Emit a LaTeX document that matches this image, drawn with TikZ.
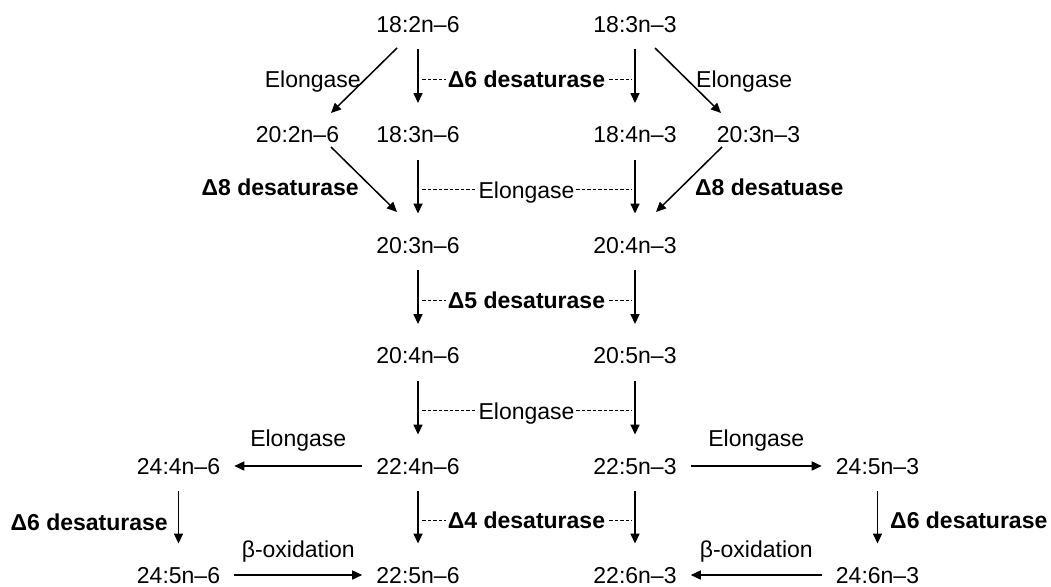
\documentclass[tikz,border=0pt]{standalone}
\usepackage{fontspec}
\setmainfont{Liberation Sans}
\usetikzlibrary{arrows.meta,calc}

\tikzset{
  fa/.style={inner sep=0pt, text height=16.5pt, text depth=0pt, font=\fontsize{23}{27}\selectfont},
  enz/.style={fa, font=\fontsize{23}{27}\selectfont\bfseries},
  conv/.style={-{Triangle[length=10pt,width=9pt]}, line width=1.5pt},
  vconv/.style={conv, shorten <=17pt, shorten >=23pt},
  hconv/.style={conv, shorten <=14pt, shorten >=14pt},
  link/.style={line width=0.8pt, dash pattern=on 3.5pt off 2pt, shorten <=4pt, shorten >=3pt},
  onlink/.style={fill=white, inner xsep=1.5pt}
}

\begin{document}
\begin{tikzpicture}[x=1pt,y=-1pt]
  \useasboundingbox (0,0) rectangle (1051,586);

  \node[fa] (f182n6) at (418,24)    {18:2n–6};
  \node[fa] (f183n3) at (635,24)    {18:3n–3};
  \node[fa] (f202n6) at (297.5,134.5) {20:2n–6};
  \node[fa] (f183n6) at (418,134.5) {18:3n–6};
  \node[fa] (f184n3) at (635,134.5) {18:4n–3};
  \node[fa] (f203n3) at (758.5,134.5) {20:3n–3};
  \node[fa] (f203n6) at (418,245)   {20:3n–6};
  \node[fa] (f204n3) at (635,245)   {20:4n–3};
  \node[fa] (f204n6) at (418,355.5) {20:4n–6};
  \node[fa] (f205n3) at (635,355.5) {20:5n–3};
  \node[fa] (f244n6) at (178.5,466) {24:4n–6};
  \node[fa] (f224n6) at (418,466)   {22:4n–6};
  \node[fa] (f225n3) at (635,466)   {22:5n–3};
  \node[fa] (f245n3) at (877.5,466) {24:5n–3};
  \node[fa] (f245n6) at (178.5,575) {24:5n–6};
  \node[fa] (f225n6) at (418,575)   {22:5n–6};
  \node[fa] (f226n3) at (635,575)   {22:6n–3};
  \node[fa] (f246n3) at (877.5,575) {24:6n–3};

  % main columns
  \draw[vconv] (f182n6) -- (f183n6);
  \draw[vconv] (f183n3) -- (f184n3);
  \draw[vconv] (f183n6) -- (f203n6);
  \draw[vconv] (f184n3) -- (f204n3);
  \draw[vconv] (f203n6) -- (f204n6);
  \draw[vconv] (f204n3) -- (f205n3);
  \draw[vconv] (f204n6) -- (f224n6);
  \draw[vconv] (f205n3) -- (f225n3);
  \draw[vconv] (f224n6) -- (f225n6);
  \draw[vconv] (f225n3) -- (f226n3);
  \draw[vconv] (f244n6) -- (f245n6);
  \draw[vconv] (f245n3) -- (f246n3);

  \draw[link] ($(f182n6)!0.5!(f183n6)$) -- node[enz,onlink] (d6) {Δ6 desaturase} ($(f183n3)!0.5!(f184n3)$);
  \draw[link] ($(f183n6)!0.5!(f203n6)$) -- node[fa,onlink] (elo1) {Elongase} ($(f184n3)!0.5!(f204n3)$);
  \draw[link] ($(f203n6)!0.5!(f204n6)$) -- node[enz,onlink] (d5) {Δ5 desaturase} ($(f204n3)!0.5!(f205n3)$);
  \draw[link] ($(f204n6)!0.5!(f224n6)$) -- node[fa,onlink] (elo2) {Elongase} ($(f205n3)!0.5!(f225n3)$);
  \draw[link] ($(f224n6)!0.5!(f225n6)$) -- node[enz,onlink] (d4) {Δ4 desaturase} ($(f225n3)!0.5!(f226n3)$);

  % side routes
  \draw[conv] ([shift={(-21,24)}]f182n6.center) -- ([shift={(33.5,-21.5)}]f202n6.center);
  \draw[conv] ([shift={(20,24)}]f183n3.center) -- ([shift={(-37.5,-21.5)}]f203n3.center);
  \draw[conv] ([shift={(33.5,12.5)}]f202n6.center) -- ([shift={(-21,-33)}]f203n6.center);
  \draw[conv] ([shift={(-36.5,12.5)}]f203n3.center) -- ([shift={(21,-33)}]f204n3.center);
  \node[fa,anchor=east] (elo3) at (361,79) {Elongase};
  \node[fa,anchor=west] (elo4) at (696,79) {Elongase};
  \node[enz,anchor=east] (d8a) at (359,187) {Δ8 desaturase};
  \node[enz,anchor=west] (d8b) at (695,187) {Δ8 desatuase};

  \draw[hconv] (f224n6) -- node[fa,above=19pt] (elo5) {Elongase} (f244n6);
  \draw[hconv] (f225n3) -- node[fa,above=19pt] (elo6) {Elongase} (f245n3);
  \draw[hconv] (f245n6) -- node[fa,above=17pt] (box1) {β-oxidation} (f225n6);
  \draw[hconv] (f246n3) -- node[fa,above=17pt] (box2) {β-oxidation} (f226n3);
  \node[enz,anchor=east] (d6a) at (168,522) {Δ6 desaturase};
  \node[enz,anchor=west] (d6b) at (890,520) {Δ6 desaturase};
\end{tikzpicture}
\end{document}
